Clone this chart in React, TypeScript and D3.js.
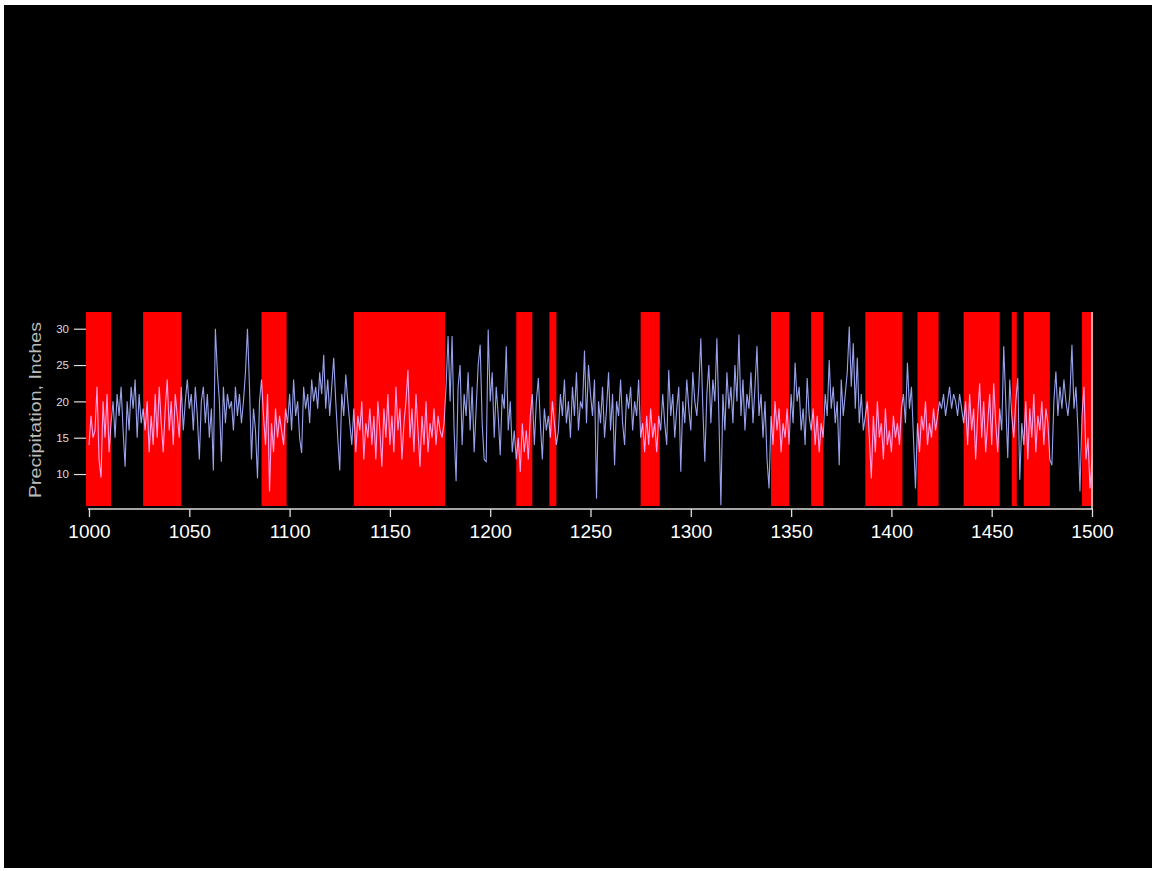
import * as d3 from "d3";
import { useEffect, useRef } from "react";

// annual precipitation (inches), one value per year starting at 1000
const startYear = 1000;
const precip = [
  14, 18, 15, 16, 22, 12, 9.5, 20, 15, 21, // 1000
  13, 17, 20, 15, 21, 18, 22, 16, 11, 20, // 1010
  16, 22, 19, 23, 15, 21, 17, 19, 16, 20, // 1020
  13, 18, 14, 21, 15, 22, 17, 13, 19, 23, // 1030
  16, 20, 14, 21, 18, 15, 22, 16, 20, 23, // 1040
  19, 21, 16, 22, 18, 12, 20, 22, 17, 21, // 1050
  15, 19, 10.5, 30, 24, 20, 11.7, 22, 17, 21, // 1060
  19, 20, 16, 22, 18, 21, 17, 20, 24, 30, // 1070
  22, 12, 19, 16, 9.4, 20, 23, 18, 14, 21, // 1080
  7.6, 17, 13, 19, 15, 18, 16, 14, 19, 17, // 1090
  21, 16, 23, 18, 20, 15, 12.9, 22, 19, 21, // 1100
  17, 23, 20, 22, 19, 24, 21, 26.4, 19, 23, // 1110
  18, 22, 26, 20, 15, 10.5, 21, 18, 23.7, 20, // 1120
  17, 14, 19, 13, 18, 16, 20, 12, 17, 15, // 1130
  19, 14, 18, 12, 20, 16, 11, 19, 15, 21, // 1140
  14, 18, 13, 22, 16, 19, 12, 17, 20, 24.3, // 1150
  15, 19, 13, 21, 16, 11, 18, 14, 20, 13, // 1160
  17, 15, 19, 14, 18, 16, 15, 17, 22, 29, // 1170
  20, 29, 16, 9, 22, 25, 14, 21, 18, 24, // 1180
  16, 22, 13, 19, 25, 27.8, 17, 12, 11.7, 29.9, // 1190
  20, 24, 15, 22, 18, 12.6, 21, 19, 27.6, 16, // 1200
  20, 13, 16, 12, 15, 10.3, 17, 13, 16, 12, // 1210
  18, 21, 14, 20, 23.2, 17, 12, 19, 16, 18, // 1220
  15, 20, 17, 14, 16, 21, 18, 23, 17, 20, // 1230
  15, 22, 18, 24, 16, 20, 19, 27, 17, 25, // 1240
  21, 18, 23, 6.6, 20, 17, 22, 15, 19, 24, // 1250
  16, 21, 11.2, 20, 18, 23, 17, 14, 21, 19, // 1260
  22, 16, 20, 18, 23, 15, 17, 13, 18, 14, // 1270
  19, 15, 17, 13, 18, 16, 21, 17, 14, 24.3, // 1280
  18, 21, 15, 19, 22, 10.3, 20, 17, 23, 19, // 1290
  16, 24, 20, 18, 22, 28.7, 19, 11.7, 21, 25, // 1300
  17, 23, 20, 28.7, 18, 5.7, 21, 16, 24, 19, // 1310
  22, 17, 25, 20, 29.2, 18, 23, 16, 21, 19, // 1320
  24, 17, 22, 27.6, 18, 21, 15, 20, 12, 8, // 1330
  18, 14, 20, 16, 19, 13, 17, 15, 19, 14, // 1340
  21, 17, 25.3, 20, 22, 16, 19, 14, 23.2, 18, // 1350
  16, 19, 14, 18, 13, 17, 15, 21, 18, 25.7, // 1360
  19, 22, 17, 20, 11.2, 23, 18, 21, 24, 30.3, // 1370
  22, 28, 19, 26, 17, 21, 16, 18, 20, 15, // 1380
  9.4, 18, 13, 20, 15, 17, 12, 19, 14, 16, // 1390
  13, 18, 15, 17, 14, 19, 21, 17, 25.3, 19, // 1400
  22, 15, 8, 17, 13, 18, 16, 20, 14, 17, // 1410
  15, 19, 16, 18, 20, 19, 21, 18, 20, 22, // 1420
  19, 21, 20, 18, 21, 19, 17, 20, 14, 21, // 1430
  16, 19, 12, 18, 22.5, 15, 20, 13, 17, 21, // 1440
  14, 22.5, 17, 13, 19, 16, 27.6, 20, 12.2, 23, // 1450
  18, 15, 20, 23.2, 9.2, 17, 14, 20, 12, 19, // 1460
  15, 21, 13, 18, 16, 20, 14, 19, 17, 12, // 1470
  11.2, 20, 24.1, 18, 22, 19, 23, 20, 18, 21, // 1480
  27.8, 19, 22, 16, 7.6, 18, 22, 12, 15, 8, // 1490
  12, // 1500
];

// drought periods, [from, to] in years
const droughts: [number, number][] = [
  [998.5, 1011],
  [1027, 1046],
  [1086, 1098.5],
  [1132, 1177.5],
  [1213, 1221],
  [1229.5, 1233],
  [1275, 1284.5],
  [1340, 1349],
  [1360, 1366],
  [1387, 1405.5],
  [1413, 1423.5],
  [1436, 1454],
  [1460, 1462.5],
  [1466, 1479],
  [1495, 1500.5],
];

const yearTicks = [1000, 1050, 1100, 1150, 1200, 1250, 1300, 1350, 1400, 1450, 1500];
const precipTicks = [10, 15, 20, 25, 30];

export default function App() {
  const ref = useRef<SVGSVGElement | null>(null);

  useEffect(() => {
    if (!ref.current) return;
    const svg = d3.select(ref.current);
    svg.selectAll("*").remove();

    const width = 1156;
    const height = 871;
    const font = "'Liberation Sans', Arial, sans-serif";

    svg.append("rect").attr("width", width).attr("height", height).attr("fill", "#fff");
    svg
      .append("rect")
      .attr("x", 4)
      .attr("y", 5)
      .attr("width", 1148)
      .attr("height", 863)
      .attr("fill", "#000");

    const years = d3.range(startYear, startYear + precip.length);
    const data = years.map((yr, i) => ({ yr, v: precip[i] }));

    const x = d3.scaleLinear().domain([1000, 1500]).range([89, 1092]);
    const y = d3.scaleLinear().domain([5.6, 32.3]).range([506, 312]);

    const plot = svg.append("g").style("isolation", "isolate");

    // drought bands
    plot
      .append("g")
      .selectAll("rect")
      .data(droughts)
      .join("rect")
      .attr("x", (d) => x(d[0]))
      .attr("y", y(32.3))
      .attr("width", (d) => x(d[1]) - x(d[0]))
      .attr("height", y(5.6) - y(32.3))
      .attr("fill", "#ff0000");

    const line = d3
      .line<{ yr: number; v: number }>()
      .x((d) => x(d.yr))
      .y((d) => y(d.v));

    // screen blend turns the blue line pinkish over the red bands
    plot
      .append("path")
      .datum(data)
      .attr("d", line)
      .attr("fill", "none")
      .attr("stroke", "#98a2ec")
      .attr("stroke-width", 1.1)
      .style("mix-blend-mode", "screen");

    // right edge line
    svg
      .append("line")
      .attr("x1", x(1500))
      .attr("x2", x(1500))
      .attr("y1", y(32.3))
      .attr("y2", 509)
      .attr("stroke", "#ddd")
      .attr("stroke-width", 1.5);

    const xAxis = svg
      .append("g")
      .attr("transform", "translate(0,509)")
      .call(
        d3
          .axisBottom(x)
          .tickValues(yearTicks)
          .tickFormat(d3.format("d"))
          .tickSize(8)
          .tickSizeOuter(0)
          .tickPadding(8)
      );
    xAxis.select(".domain").attr("stroke", "#ddd").attr("stroke-width", 1.5).attr("d", "M88,0H1093");
    xAxis.selectAll(".tick line").attr("stroke", "#ddd").attr("stroke-width", 1.3);
    xAxis
      .selectAll(".tick text")
      .attr("fill", "#fff")
      .attr("font-size", 19)
      .attr("font-family", font);

    const yAxis = svg
      .append("g")
      .attr("transform", "translate(86,0)")
      .call(d3.axisLeft(y).tickValues(precipTicks).tickSize(12).tickPadding(5));
    yAxis.select(".domain").remove();
    yAxis.selectAll(".tick line").attr("stroke", "#ddd").attr("stroke-width", 1.2);
    yAxis
      .selectAll(".tick text")
      .attr("fill", "#ddd")
      .attr("font-size", 11.5)
      .attr("font-family", font);

    svg
      .append("text")
      .attr("transform", "translate(41,410) rotate(-90)")
      .attr("text-anchor", "middle")
      .attr("fill", "#bbb")
      .attr("font-size", 16)
      .attr("font-family", font)
      .attr("textLength", 176)
      .attr("lengthAdjust", "spacingAndGlyphs")
      .text("Precipitation, Inches");
  }, []);

  return (
    <svg
      ref={ref}
      width={1156}
      height={871}
      style={{ position: "absolute", left: 0, top: 0 }}
    />
  );
}
